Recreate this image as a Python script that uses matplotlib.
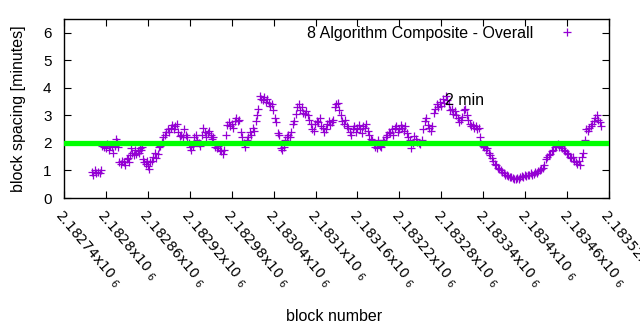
import matplotlib
matplotlib.use("Agg")
import matplotlib.pyplot as plt
import matplotlib.transforms as mtransforms
import numpy as np

plt.rcParams['font.family'] = ['Liberation Sans', 'DejaVu Sans']

block_base = 2182740
block_offsets = [
    40, 42, 44, 46, 49, 52, 53, 54, 57, 60, 62, 64, 66, 69, 70, 73, 74, 76, 77, 79,
    82, 83, 86, 87, 90, 92, 93, 94, 96, 97, 100, 102, 103, 106, 107, 109, 110, 112, 113, 115,
    117, 119, 120, 122, 123, 126, 127, 130, 132, 135, 136, 137, 140, 142, 145, 146, 149, 150, 153, 155,
    157, 159, 162, 163, 166, 167, 170, 172, 175, 176, 179, 180, 182, 185, 186, 189, 190, 193, 195, 198,
    199, 202, 203, 206, 208, 210, 212, 213, 216, 219, 220, 223, 225, 228, 229, 232, 233, 236, 238, 241,
    242, 245, 246, 249, 250, 253, 255, 258, 259, 262, 263, 266, 268, 271, 272, 275, 276, 278, 281, 282,
    285, 286, 289, 291, 293, 295, 298, 299, 302, 303, 306, 308, 311, 312, 315, 316, 319, 321, 324, 325,
    328, 329, 332, 334, 336, 338, 341, 342, 345, 346, 349, 351, 354, 355, 358, 359, 362, 364, 366, 368,
    371, 372, 375, 376, 379, 381, 384, 385, 388, 389, 392, 394, 397, 398, 401, 402, 405, 407, 409, 411,
    414, 415, 418, 419, 422, 424, 427, 428, 431, 432, 435, 437, 439, 441, 444, 445, 448, 449, 452, 454,
    457, 458, 461, 462, 465, 467, 470, 471, 474, 475, 478, 480, 482, 484, 487, 488, 491, 492, 495, 497,
    500, 501, 504, 505, 508, 510, 512, 514, 517, 518, 521, 522, 525, 527, 530, 531, 534, 535, 538, 540,
    543, 544, 547, 548, 551, 553, 555, 557, 560, 561, 564, 565, 568, 570, 573, 574, 577, 578, 581, 583,
    585, 587, 590, 591, 594, 595, 597, 600, 601, 604, 605, 608, 610, 613, 614, 617, 618, 621, 623, 626,
    627, 630, 631, 634, 636, 638, 640, 643, 644, 647, 648, 651, 653, 656, 657, 660, 661, 664, 666, 668,
    670, 673, 674, 677, 678, 681, 683, 686, 687, 690, 691, 694, 696, 699, 700, 703, 704, 707, 709, 711,
    713, 716, 717, 720, 721, 724, 726, 729, 730, 733, 734, 737, 739, 741, 743, 746, 747, 750, 751, 754,
    756, 759, 760, 763, 764, 767, 769,
]
spacing_minutes = [
    0.95, 0.85, 1.0, 0.9, 0.95, 0.92, 1.0, 1.9, 1.85, 1.8, 1.95, 1.75, 1.9, 1.85, 1.65, 1.9, 2.15, 2.05, 1.85, 1.3,
    1.25, 1.35, 1.3, 1.2, 1.4, 1.45, 1.3, 1.55, 1.8, 1.65, 1.55, 1.75, 1.6, 1.7, 1.65, 1.8, 1.75, 1.85, 1.4, 1.3,
    1.25, 1.35, 1.15, 1.05, 1.3, 1.35, 1.5, 1.65, 1.45, 1.6, 1.85, 1.9, 2.05, 2.2, 2.3, 2.4, 2.5, 2.4, 2.55, 2.65,
    2.5, 2.6, 2.7, 2.4, 2.25, 2.3, 2.2, 2.5, 2.3, 2.2, 2.0, 1.85, 1.75, 1.9, 2.2, 2.3, 2.1, 2.0, 1.9, 2.3,
    2.55, 2.4, 2.2, 2.35, 2.45, 2.3, 2.15, 2.2, 1.85, 1.8, 1.9, 1.75, 1.7, 1.6, 1.75, 2.3, 2.65, 2.75, 2.6, 2.7,
    2.55, 2.8, 2.9, 2.8, 2.85, 2.4, 2.2, 2.0, 1.85, 2.1, 2.2, 2.4, 2.3, 2.55, 2.45, 2.8, 3.0, 3.25, 3.7, 3.6,
    3.55, 3.65, 3.5, 3.6, 3.45, 3.35, 3.4, 3.2, 2.9, 2.75, 2.35, 2.3, 1.8, 1.75, 1.85, 2.1, 2.2, 2.3, 2.2, 2.4,
    2.7, 2.8, 3.05, 3.3, 3.4, 3.2, 3.3, 3.1, 3.05, 3.15, 3.0, 2.85, 2.7, 2.5, 2.45, 2.7, 2.8, 2.75, 2.9, 2.6,
    2.55, 2.4, 2.5, 2.7, 2.8, 2.65, 2.75, 2.85, 3.3, 3.4, 3.45, 3.2, 3.0, 2.8, 2.7, 2.85, 2.6, 2.55, 2.4, 2.3,
    2.5, 2.6, 2.4, 2.55, 2.65, 2.5, 2.35, 2.6, 2.55, 2.7, 2.45, 2.3, 2.15, 2.1, 2.0, 1.85, 1.8, 2.1, 1.9, 1.85,
    2.1, 2.05, 2.2, 2.3, 2.4, 2.35, 2.5, 2.3, 2.55, 2.6, 2.4, 2.5, 2.65, 2.55, 2.45, 2.6, 2.35, 2.2, 2.1, 1.8,
    2.0, 2.25, 2.15, 2.05, 2.0, 1.95, 2.1, 2.5, 2.8, 2.9, 2.65, 2.55, 2.45, 2.6, 3.1, 3.25, 3.4, 3.3, 3.5, 3.35,
    3.6, 3.45, 3.7, 3.55, 3.4, 3.2, 3.25, 3.05, 3.15, 3.0, 2.9, 2.75, 2.85, 2.95, 3.2, 3.25, 3.0, 2.85, 2.7, 2.6,
    2.65, 2.55, 2.6, 2.5, 2.55, 2.2, 1.95, 1.9, 1.85, 1.75, 1.8, 1.65, 1.55, 1.45, 1.35, 1.25, 1.2, 1.1, 1.05, 1.0,
    0.95, 0.9, 0.85, 0.82, 0.8, 0.78, 0.75, 0.72, 0.7, 0.68, 0.72, 0.7, 0.75, 0.8, 0.78, 0.82, 0.8, 0.85, 0.82, 0.9,
    0.85, 0.88, 0.95, 0.92, 0.98, 1.0, 1.05, 1.1, 1.2, 1.4, 1.5, 1.55, 1.6, 1.7, 1.75, 1.85, 1.9, 1.95, 1.85, 1.9,
    1.8, 1.75, 1.7, 1.65, 1.6, 1.5, 1.45, 1.5, 1.35, 1.3, 1.25, 1.35, 1.2, 1.5, 1.65, 2.1, 2.5, 2.45, 2.55, 2.6,
    2.7, 2.8, 2.9, 3.0, 2.85, 2.75, 2.6,
]
target_minutes = 2
xtick_values = [2182740, 2182800, 2182860, 2182920, 2182980, 2183040, 2183100,
                2183160, 2183220, 2183280, 2183340, 2183400, 2183460, 2183520]
xtick_mantissas = ["2.18274", "2.1828", "2.18286", "2.18292", "2.18298", "2.18304", "2.1831",
                   "2.18316", "2.18322", "2.18328", "2.18334", "2.1834", "2.18346", "2.18352"]
ytick_values = [0, 1, 2, 3, 4, 5, 6]
series_label = "8 Algorithm Composite - Overall"
annotation_text = "2 min"
annotation_pos = (2183285, 3.53)

blocks = np.array(block_offsets) + block_base

fig = plt.figure(figsize=(6.4, 3.3), dpi=100)
ax = fig.add_axes([64/640, 1-198/330, (609-64)/640, (198-19)/330])

ax.axhline(target_minutes, color='#00ff00', lw=3.8, zorder=3)
ax.plot(blocks, spacing_minutes, linestyle='none', marker='+', markersize=6,
        markeredgewidth=0.9, color='#9400d3', label=series_label, zorder=2)

ax.set_xlim(xtick_values[0], xtick_values[-1])
ax.set_ylim(0, 6.5)
ax.set_xticks(xtick_values)
ax.set_xticklabels([m + r'x10 $_{6}$' for m in xtick_mantissas],
                   rotation=-50, ha='left', va='top', rotation_mode='anchor',
                   fontsize=10, family='DejaVu Sans')
shift = mtransforms.ScaledTranslation(6/100, 0, fig.dpi_scale_trans)
for lab in ax.get_xticklabels():
    lab.set_transform(lab.get_transform() + shift)
ax.set_yticks(ytick_values)
ax.tick_params(axis='y', labelsize=11, pad=9)
ax.tick_params(direction='in', length=5, width=0.8, top=True, right=True)
ax.tick_params(axis='x', pad=6.5)
for s in ax.spines.values():
    s.set_linewidth(1.0)

ax.set_ylabel('block spacing [minutes]', fontsize=11.5)
ax.yaxis.set_label_coords((26-64)/(609-64), 0.5)
ax.set_xlabel('block number', fontsize=11.5)
ax.xaxis.set_label_coords((334-64)/(609-64), -(309-198)/(198-19))

ax.text(annotation_pos[0], annotation_pos[1], annotation_text, fontsize=11.5,
        ha='left', va='center', zorder=4)

leg = ax.legend(loc='upper right', bbox_to_anchor=((591-64)/545, 1-(26-19)/179),
                markerfirst=False, frameon=False,
                fontsize=11.5, handlelength=3.0, handletextpad=0.62,
                borderaxespad=0.0, borderpad=0.0)

fig.savefig('out.png', dpi=100)
